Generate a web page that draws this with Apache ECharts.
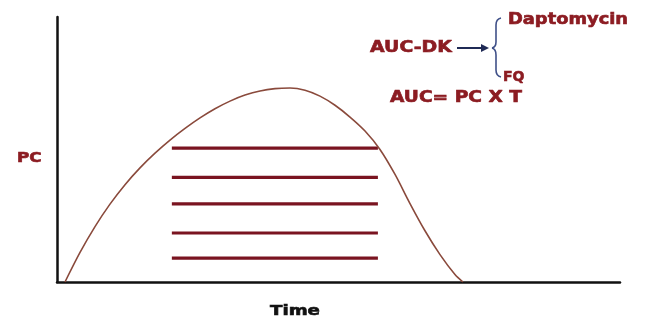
<!DOCTYPE html>
<html>
<head>
<meta charset="utf-8">
<script src="https://cdn.jsdelivr.net/npm/echarts@6/dist/echarts.min.js"></script>
<style>
  html, body { margin: 0; padding: 0; background: #ffffff; }
  #chart { width: 647px; height: 322px; }
</style>
</head>
<body>
<div id="chart"></div>
<script>
// Plasma concentration (PC) over time: absorption/elimination curve
const timePoints = [1.42, 4.09, 6.75, 9.41, 12.08, 14.74, 17.41, 20.07, 22.74, 25.40, 28.06, 30.73, 33.39, 36.06,
                    38.72, 41.39, 44.05, 46.71, 49.38, 52.04, 54.71, 57.37, 60.04, 62.70, 65.36, 68.03, 70.69, 72.11];
const concValues = [0, 11.15, 20.89, 29.38, 36.74, 43.08, 48.62, 53.55, 57.96, 61.92, 65.38, 68.26, 70.53, 72.11,
                    72.96, 73.19, 72.35, 70.13, 66.69, 62.25, 56.97, 50.03, 40.59, 29.60, 19.33, 10.33, 2.83, 0];

// Horizontal bands filling the area under the curve
const bandLevels = [50.5, 39.5, 29.5, 18.5, 9];
const bandStart = 20.4;
const bandEnd = 57.0;

// Annotation texts
const xAxisTitle = 'Time';
const yAxisTitle = 'PC';
const aucLabel = 'AUC-DK';
const drugTop = 'Daptomycin';
const drugBottom = 'FQ';
const formula = 'AUC= PC X T';

const RED = '#8c1c22';
const FONT = '"DejaVu Sans", Verdana, sans-serif';
const BRACE = { stroke: '#3f5088', lineWidth: 1.6, fill: null };

const chart = echarts.init(document.getElementById('chart'), null, { renderer: 'canvas' });

function label(text, x, y, size, sx, color) {
  return {
    type: 'text',
    x: x, y: y,
    scaleX: sx,
    style: {
      text: text,
      fontSize: size,
      fontWeight: 'bold',
      fontFamily: FONT,
      fill: color,
      stroke: color,
      lineWidth: 0.6,
      textAlign: 'left', align: 'left',
      textVerticalAlign: 'middle', verticalAlign: 'middle'
    }
  };
}

function curve(x1, y1, cx, cy, x2, y2) {
  return { type: 'bezierCurve', shape: { x1: x1, y1: y1, cpx1: cx, cpy1: cy, x2: x2, y2: y2 }, style: BRACE };
}
function seg(x1, y1, x2, y2) {
  return { type: 'line', shape: { x1: x1, y1: y1, x2: x2, y2: y2 }, style: BRACE };
}

const curveData = timePoints.map((t, i) => [t, concValues[i]]);

const bandSeries = bandLevels.map(level => ({
  type: 'line',
  data: [[bandStart, level], [bandEnd, level]],
  symbol: 'none',
  lineStyle: { color: '#7a1420', width: 3.2 },
  silent: true,
  z: 2
}));

chart.setOption({
  backgroundColor: '#ffffff',
  animation: false,
  grid: { left: 57, top: 17, width: 563, height: 265 },
  xAxis: {
    type: 'value', min: 0, max: 100,
    axisLine: { show: true, lineStyle: { color: '#111111', width: 2.5 } },
    axisTick: { show: false },
    axisLabel: { show: false },
    splitLine: { show: false }
  },
  yAxis: {
    type: 'value', min: 0, max: 100,
    axisLine: { show: true, lineStyle: { color: '#111111', width: 2.5 } },
    axisTick: { show: false },
    axisLabel: { show: false },
    splitLine: { show: false }
  },
  series: [
    {
      type: 'line',
      data: curveData,
      smooth: 0.3,
      symbol: 'none',
      lineStyle: { color: '#8a4a3c', width: 1.6 },
      silent: true,
      z: 3
    }
  ].concat(bandSeries),
  graphic: [
    label(yAxisTitle, 17, 158, 14, 1.2, RED),
    label(xAxisTitle, 270, 311, 14, 1.3, '#111111'),
    label(aucLabel, 370, 48, 15, 1.26, RED),
    label(drugTop, 508, 20, 15, 1.19, RED),
    label(drugBottom, 503, 77, 14, 1.0, RED),
    label(formula, 390, 98, 15, 1.24, RED),
    // arrow from AUC-DK to the brace
    {
      type: 'line',
      shape: { x1: 457, y1: 48, x2: 482, y2: 48 },
      style: { stroke: '#1f2a55', lineWidth: 2 }
    },
    {
      type: 'polygon',
      shape: { points: [[481, 44], [489, 48], [481, 52]] },
      style: { fill: '#1f2a55' }
    },
    // curly brace
    curve(501, 18, 496, 19, 496, 25),
    seg(496, 25, 496, 42),
    curve(496, 42, 496, 47, 492, 48),
    curve(492, 48, 496, 49, 496, 55),
    seg(496, 55, 496, 70),
    curve(496, 70, 496, 76, 501, 77)
  ]
});
</script>
</body>
</html>
